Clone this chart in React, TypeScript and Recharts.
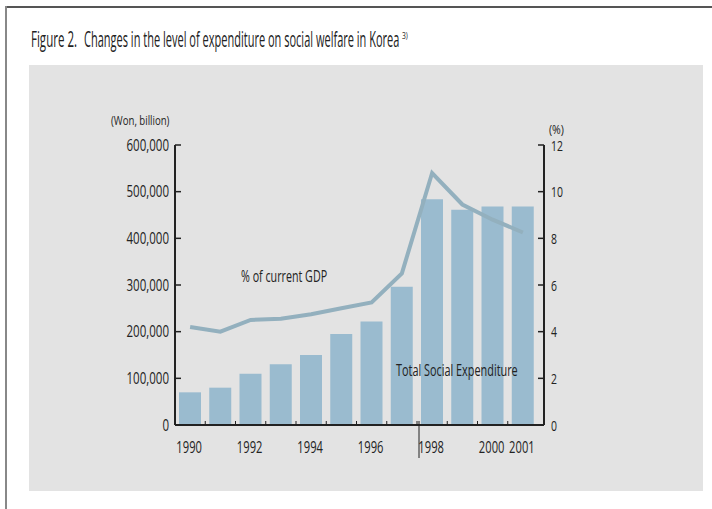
import React from 'react';
import { Bar, ComposedChart, Line, XAxis, YAxis } from 'recharts';

const years = ['1990', '1991', '1992', '1993', '1994', '1995', '1996', '1997', '1998', '1999', '2000', '2001'];
const expenditure = [70000, 80000, 110000, 130000, 150000, 195000, 222000, 296000, 484000, 461000, 468000, 468000];
const gdpShare = [4.2, 4.0, 4.5, 4.55, 4.75, 5.0, 5.25, 6.5, 10.8, 9.45, 8.8, 8.25];
const xLabels = ['1990', '1992', '1994', '1996', '1998', '2000', '2001'];
const leftTicks = [0, 100000, 200000, 300000, 400000, 500000, 600000];
const rightTicks = [0, 2, 4, 6, 8, 10, 12];

const data = years.map((year, i) => ({ year, spend: expenditure[i], gdp: gdpShare[i] }));

const FONT = '"Open Sans", "Liberation Sans", sans-serif';
const INK = '#222';
const SX = 0.72; // squeeze to mimic a condensed face
const PLOT_L = 175;
const PLOT_R = 544;
const PAD_R = 6;
const BAND = (PLOT_R - PAD_R - PLOT_L) / years.length;

const fmt = (v: number) => v.toLocaleString('en-US');

// text squeezed horizontally around its anchor point
function SText({ x, y, anchor = 'start', size, sx = SX, children }: any) {
  return (
    <text
      transform={`translate(${x},${y}) scale(${sx},1)`}
      textAnchor={anchor}
      fontSize={size}
      fill={INK}
      fontFamily={FONT}
    >
      {children}
    </text>
  );
}

function LeftTick(props: any) {
  const { x, y, payload } = props;
  return (
    <g>
      <line x1={x + 6} x2={x + 12} y1={y} y2={y} stroke={INK} strokeWidth={1.5} />
      <SText x={x} y={y + 5.5} anchor="end" size={16}>{fmt(payload.value)}</SText>
    </g>
  );
}

function RightTick(props: any) {
  const { x, y, payload } = props;
  return (
    <g>
      <line x1={x - 6} x2={x - 12} y1={y} y2={y} stroke={INK} strokeWidth={1.5} />
      <SText x={x + 1} y={y + 5.5} size={14.5}>{payload.value}</SText>
    </g>
  );
}

function BottomTick(props: any) {
  const { x, y, payload, index } = props;
  const axisY = y - 18;
  const bx = x + BAND / 2;
  return (
    <g>
      {index < years.length - 1 && (
        <line x1={bx} x2={bx} y1={axisY} y2={axisY - 4} stroke={INK} strokeWidth={1} />
      )}
      {payload.value === '1998' && (
        <line x1={x - BAND / 2 + 2} x2={x - BAND / 2 + 2} y1={axisY - 4} y2={axisY + 33} stroke={INK} strokeWidth={1} />
      )}
      {xLabels.includes(payload.value) && (
        <SText x={x - 1} y={y + 10} anchor="middle" size={15.5}>{payload.value}</SText>
      )}
    </g>
  );
}

export default function App() {
  return (
    <div style={{ position: 'absolute', left: 0, top: 0, width: 712, height: 509, background: '#fff', overflow: 'hidden' }}>
      <div style={{ position: 'absolute', left: 5, top: 6, width: 707, height: 1.5, background: '#555' }} />
      <div style={{ position: 'absolute', left: 5, top: 6, width: 2, height: 503, background: '#888' }} />
      <div style={{ position: 'absolute', left: 29, top: 65, width: 674, height: 426, background: '#e3e3e3' }} />
      <ComposedChart
        width={712}
        height={509}
        data={data}
        margin={{ top: 145, right: 712 - PLOT_R - 40, bottom: 509 - 425 - 40, left: PLOT_L - 60 }}
        style={{ position: 'absolute', left: 0, top: 0 }}
      >
        <XAxis
          dataKey="year"
          height={40}
          interval={0}
          padding={{ left: 0, right: PAD_R }}
          axisLine={{ stroke: INK, strokeWidth: 2 }}
          tickLine={false}
          tickSize={0}
          tickMargin={18}
          tick={<BottomTick />}
        />
        <YAxis
          yAxisId="left"
          orientation="left"
          width={60}
          domain={[0, 600000]}
          ticks={leftTicks}
          axisLine={{ stroke: INK, strokeWidth: 2 }}
          tickLine={false}
          tickSize={0}
          tickMargin={6}
          tick={<LeftTick />}
        />
        <YAxis
          yAxisId="right"
          orientation="right"
          width={40}
          domain={[0, 12]}
          ticks={rightTicks}
          axisLine={{ stroke: INK, strokeWidth: 2 }}
          tickLine={false}
          tickSize={0}
          tickMargin={6}
          tick={<RightTick />}
        />
        <Bar yAxisId="left" dataKey="spend" fill="#9abbcf" barSize={22} isAnimationActive={false} />
        <Line
          yAxisId="right"
          dataKey="gdp"
          type="linear"
          stroke="#93b0be"
          strokeWidth={4}
          dot={false}
          activeDot={false}
          isAnimationActive={false}
        />
      </ComposedChart>
      <svg width={712} height={509} style={{ position: 'absolute', left: 0, top: 0, pointerEvents: 'none' }}>
        <SText x={31} y={47} size={21} sx={0.55}>Figure 2.</SText>
        <SText x={84} y={47} size={21} sx={0.525}>Changes in the level of expenditure on social welfare in Korea</SText>
        <SText x={402} y={39} size={9} sx={0.75}>3)</SText>
        <SText x={111} y={125} size={13} sx={0.74}>(Won, billion)</SText>
        <SText x={549} y={134} size={12} sx={0.88}>(%)</SText>
        <SText x={241} y={282} size={16} sx={0.67}>% of current GDP</SText>
        <SText x={396} y={376} size={16} sx={0.68}>Total Social Expenditure</SText>
      </svg>
    </div>
  );
}
